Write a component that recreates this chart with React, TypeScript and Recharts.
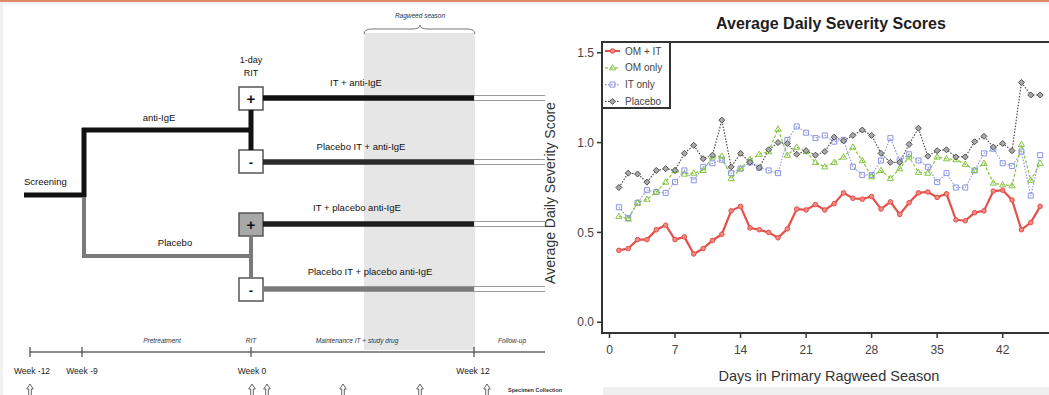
import React from 'react';
import { ComposedChart, LineChart, Line, XAxis, YAxis, ReferenceLine, ReferenceArea, Customized } from 'recharts';

// ---------- data (right panel) ----------
const days = [1,2,3,4,5,6,7,8,9,10,11,12,13,14,15,16,17,18,19,20,21,22,23,24,25,26,27,28,29,30,31,32,33,34,35,36,37,38,39,40,41,42,43,44,45,46];
const omIt = [0.40,0.41,0.46,0.46,0.515,0.54,0.46,0.475,0.38,0.41,0.455,0.49,0.62,0.645,0.525,0.515,0.50,0.47,0.52,0.63,0.625,0.655,0.625,0.66,0.72,0.69,0.685,0.70,0.63,0.67,0.60,0.665,0.72,0.725,0.695,0.715,0.57,0.565,0.61,0.62,0.73,0.735,0.68,0.515,0.555,0.645];
const omOnly = [0.59,0.575,0.665,0.685,0.725,0.78,0.845,0.825,0.83,0.845,0.92,0.925,0.80,0.855,0.905,0.935,0.95,1.075,0.93,0.975,0.95,0.89,0.865,0.89,0.92,0.975,0.90,0.81,0.845,0.80,0.855,0.92,0.835,0.83,0.92,0.91,0.905,0.88,0.845,0.885,0.775,0.765,0.76,0.99,0.79,0.885];
const itOnly = [0.64,0.58,0.665,0.735,0.725,0.72,0.78,0.845,0.79,0.865,0.885,0.905,0.83,0.855,0.89,0.86,0.845,0.83,1.015,1.09,1.055,1.025,1.04,1.005,1.015,0.865,0.82,0.82,0.90,1.025,0.90,0.935,0.90,0.865,0.78,0.83,0.75,0.75,0.845,0.94,0.965,0.885,0.87,0.95,0.705,0.93];
const placebo = [0.75,0.83,0.825,0.78,0.845,0.855,0.845,0.94,0.985,0.91,0.93,1.125,0.865,0.94,0.89,0.86,0.96,1.0,0.995,0.935,0.955,0.93,0.95,1.03,1.01,1.04,1.07,1.04,0.94,0.89,0.89,0.99,1.08,0.925,0.955,0.96,0.92,0.92,1.005,1.035,0.975,0.995,0.955,1.335,1.265,1.265];
const xTicks = [0, 7, 14, 21, 28, 35, 42];
const yTicks = [0, 0.5, 1.0, 1.5];
const seriesNames = ['OM + IT', 'OM only', 'IT only', 'Placebo'];

const data = days.map((d, i) => ({ day: d, omIt: omIt[i], omOnly: omOnly[i], itOnly: itOnly[i], placebo: placebo[i] }));

const RED = '#e5504a';
const GREEN = '#86c440';
const BLUE = '#8c94e4';
const GREY = '#505050';
const FONT = '"Liberation Sans", Arial, Helvetica, sans-serif';

function markerPath(shape: string, cx: number, cy: number) {
  if (shape === 'tri') return `M${cx},${cy - 3.2}L${cx + 3.1},${cy + 2.1}L${cx - 3.1},${cy + 2.1}Z`;
  if (shape === 'sq') return `M${cx - 2.5},${cy - 2.5}h5v5h-5Z`;
  if (shape === 'dia') return `M${cx},${cy - 3}L${cx + 3},${cy}L${cx},${cy + 3}L${cx - 3},${cy}Z`;
  return '';
}

function makeDot(shape: string, color: string, fill: string) {
  return (props: any) => {
    const { cx, cy, index } = props;
    if (cx == null || cy == null) return <g key={index} />;
    if (shape === 'circle') {
      return <circle key={index} cx={cx} cy={cy} r={2.3} fill={fill} stroke={color} strokeWidth={1} />;
    }
    return <path key={index} d={markerPath(shape, cx, cy)} fill={fill} stroke={color} strokeWidth={1} />;
  };
}

// ---------- left diagram ----------
const anchor = [{ x: 0, y: 0 }, { x: 1049, y: 395 }];
const arrowsX = [30, 252, 267, 343, 420, 487];
const timelineTicks = [30, 82, 251, 474];
const armRows = [
  { y: 98, color: '#111' },
  { y: 162, color: '#2a2a2a' },
  { y: 224, color: '#1e1e1e' },
  { y: 289, color: '#7a7a7a' },
];

const FrameBits = () => (
  <g>
    <rect x={0} y={0} width={1049} height={2} fill="#e0896a" />
    <rect x={0} y={2} width={1049} height={2} fill="#f1f1f1" />
    <rect x={0} y={2} width={3} height={393} fill="#f1f1f1" />
    <rect x={603} y={387} width={446} height={8} fill="#efefef" />
    <rect x={364} y={33} width={111} height={317} fill="#e6e6e6" />
  </g>
);

const DiagramText = () => (
  <g fontFamily={FONT}>
    <path d="M364,34 Q364,29 372,29 L412,29 Q420,29 420,25 Q420,29 428,29 L467,29 Q475,29 475,34" fill="none" stroke="#777" strokeWidth={1} />
    <text x={420} y={18} fontSize={6.5} fontStyle="italic" textAnchor="middle" fill="#333">Ragweed season</text>

    <text x={251} y={63} fontSize={9} textAnchor="middle" fill="#111">1-day</text>
    <text x={251} y={76} fontSize={9} textAnchor="middle" fill="#111">RIT</text>

    <text x={356} y={86} fontSize={9.5} textAnchor="middle" fill="#111">IT + anti-IgE</text>
    <text x={159} y={121} fontSize={9.5} textAnchor="middle" fill="#111">anti-IgE</text>
    <text x={361} y={150} fontSize={9.5} textAnchor="middle" fill="#111">Placebo IT + anti-IgE</text>
    <text x={24} y={185} fontSize={9.5} textAnchor="start" fill="#111">Screening</text>
    <text x={357} y={211} fontSize={9.5} textAnchor="middle" fill="#111">IT + placebo anti-IgE</text>
    <text x={175} y={246} fontSize={9.5} textAnchor="middle" fill="#111">Placebo</text>
    <text x={370} y={275} fontSize={9.5} textAnchor="middle" fill="#111">Placebo IT + placebo anti-IgE</text>

    <text x={251} y={104} fontSize={15} fontWeight="bold" textAnchor="middle" fill="#111">+</text>
    <text x={251} y={167} fontSize={13} fontWeight="bold" textAnchor="middle" fill="#111">-</text>
    <text x={251} y={230} fontSize={15} fontWeight="bold" textAnchor="middle" fill="#111">+</text>
    <text x={251} y={295} fontSize={13} fontWeight="bold" textAnchor="middle" fill="#111">-</text>

    <text x={162} y={343} fontSize={6.5} fontStyle="italic" textAnchor="middle" fill="#333">Pretreatment</text>
    <text x={251} y={343} fontSize={6.5} fontStyle="italic" textAnchor="middle" fill="#333">RIT</text>
    <text x={357} y={343} fontSize={6.5} fontStyle="italic" textAnchor="middle" fill="#333">Maintenance IT + study drug</text>
    <text x={512} y={343} fontSize={6.5} fontStyle="italic" textAnchor="middle" fill="#333">Follow-up</text>

    <text x={32} y={374} fontSize={8.5} textAnchor="middle" fill="#222">Week -12</text>
    <text x={82} y={374} fontSize={8.5} textAnchor="middle" fill="#222">Week -9</text>
    <text x={252} y={374} fontSize={8.5} textAnchor="middle" fill="#222">Week 0</text>
    <text x={473} y={374} fontSize={8.5} textAnchor="middle" fill="#222">Week 12</text>
    <text x={508} y={392} fontSize={5.5} fontWeight="bold" fill="#333">Specimen Collection</text>

    {arrowsX.map((x) => (
      <path key={x} d={`M${x - 1.3},395 L${x - 1.3},389 L${x - 3.3},389 L${x},384 L${x + 3.3},389 L${x + 1.3},389 L${x + 1.3},395`} fill="#fff" stroke="#555" strokeWidth={0.9} />
    ))}

    <text x={831} y={29} fontSize={16} fontWeight="bold" textAnchor="middle" fill="#1e1e1e">Average Daily Severity Scores</text>
    <text x={829} y={381} fontSize={14.5} textAnchor="middle" fill="#333">Days in Primary Ragweed Season</text>
    <text x={555} y={193} fontSize={14} textAnchor="middle" fill="#333" transform="rotate(-90 555 193)">Average Daily Severity Score</text>
  </g>
);

const LegendBox = () => {
  const rows = [
    { name: seriesNames[0], color: RED, shape: 'circle', fill: '#f08a84', dash: undefined },
    { name: seriesNames[1], color: GREEN, shape: 'tri', fill: 'none', dash: '3 2' },
    { name: seriesNames[2], color: BLUE, shape: 'sq', fill: 'none', dash: '1.5 1.5' },
    { name: seriesNames[3], color: GREY, shape: 'dia', fill: '#aaa', dash: '1.5 1.5' },
  ];
  return (
    <g fontFamily={FONT}>
      <rect x={62} y={42} width={68} height={66} fill="#fff" stroke="#333" strokeWidth={2} />
      {rows.map((r, i) => {
        const cy = 51 + i * 16.8;
        return (
          <g key={r.name}>
            <line x1={65} x2={80} y1={cy} y2={cy} stroke={r.color} strokeWidth={r.shape === 'circle' ? 2 : 1.2} strokeDasharray={r.dash} />
            {r.shape === 'circle' ? (
              <circle cx={72.5} cy={cy} r={2.3} fill={r.fill} stroke={r.color} />
            ) : (
              <path d={markerPath(r.shape, 72.5, cy)} fill={r.fill} stroke={r.color} strokeWidth={1} />
            )}
            <text x={85} y={cy + 3.5} fontSize={10} fill="#444">{r.name}</text>
          </g>
        );
      })}
    </g>
  );
};

export default function App() {
  return (
    <div style={{ position: 'fixed', left: 0, top: 0, width: 1049, height: 395, overflow: 'hidden', background: '#fff' }}>
      <div style={{ position: 'absolute', left: 0, top: 0 }}>
        <ComposedChart width={1049} height={395} data={anchor} margin={{ top: 0, right: 0, bottom: 0, left: 0 }}>
          <XAxis dataKey="x" type="number" domain={[0, 1049]} hide allowDataOverflow />
          <YAxis dataKey="y" type="number" domain={[0, 395]} reversed hide allowDataOverflow />
          <Customized component={FrameBits} />
        </ComposedChart>
      </div>
      <div style={{ position: 'absolute', left: 0, top: 0 }}>
        <ComposedChart width={1049} height={395} data={anchor} margin={{ top: 0, right: 0, bottom: 0, left: 0 }}>
          <XAxis dataKey="x" type="number" domain={[0, 1049]} hide allowDataOverflow />
          <YAxis dataKey="y" type="number" domain={[0, 395]} reversed hide allowDataOverflow />
          <ReferenceLine segment={[{ x: 24, y: 195 }, { x: 84, y: 195 }]} stroke="#111" strokeWidth={5} />
          <ReferenceLine segment={[{ x: 84, y: 197 }, { x: 84, y: 128 }]} stroke="#111" strokeWidth={5} />
          <ReferenceLine segment={[{ x: 82, y: 130 }, { x: 251, y: 130 }]} stroke="#111" strokeWidth={5} />
          <ReferenceLine segment={[{ x: 251, y: 110 }, { x: 251, y: 150 }]} stroke="#111" strokeWidth={5} />
          <ReferenceLine segment={[{ x: 84, y: 197 }, { x: 84, y: 258 }]} stroke="#7a7a7a" strokeWidth={4} />
          <ReferenceLine segment={[{ x: 82, y: 256 }, { x: 251, y: 256 }]} stroke="#7a7a7a" strokeWidth={4} />
          <ReferenceLine segment={[{ x: 251, y: 235 }, { x: 251, y: 278 }]} stroke="#7a7a7a" strokeWidth={4} />
          {armRows.map((r) => (
            <ReferenceLine key={`a${r.y}`} segment={[{ x: 263, y: r.y }, { x: 474, y: r.y }]} stroke={r.color} strokeWidth={5.5} />
          ))}
          {armRows.map((r) => (
            <ReferenceLine key={`u${r.y}`} segment={[{ x: 474, y: r.y - 2.5 }, { x: 545, y: r.y - 2.5 }]} stroke="#9a9a9a" strokeWidth={1} />
          ))}
          {armRows.map((r) => (
            <ReferenceLine key={`l${r.y}`} segment={[{ x: 474, y: r.y + 2.5 }, { x: 545, y: r.y + 2.5 }]} stroke="#9a9a9a" strokeWidth={1} />
          ))}
          <ReferenceArea x1={239} x2={263} y1={87} y2={110} fill="#fff" fillOpacity={1} stroke="#555" strokeWidth={1.5} />
          <ReferenceArea x1={239} x2={263} y1={150} y2={173} fill="#fff" fillOpacity={1} stroke="#555" strokeWidth={1.5} />
          <ReferenceArea x1={239} x2={263} y1={213} y2={236} fill="#a8a8a8" fillOpacity={1} stroke="#555" strokeWidth={1.5} />
          <ReferenceArea x1={239} x2={263} y1={278} y2={301} fill="#fff" fillOpacity={1} stroke="#555" strokeWidth={1.5} />
          <ReferenceLine segment={[{ x: 30, y: 352 }, { x: 545, y: 352 }]} stroke="#666" strokeWidth={1.3} />
          {timelineTicks.map((x) => (
            <ReferenceLine key={`t${x}`} segment={[{ x, y: 347 }, { x, y: 357 }]} stroke="#555" strokeWidth={1.3} />
          ))}
        </ComposedChart>
      </div>
      <div style={{ position: 'absolute', left: 0, top: 0 }}>
        <ComposedChart width={1049} height={395} data={anchor} margin={{ top: 0, right: 0, bottom: 0, left: 0 }}>
          <XAxis dataKey="x" type="number" domain={[0, 1049]} hide allowDataOverflow />
          <YAxis dataKey="y" type="number" domain={[0, 395]} reversed hide allowDataOverflow />
          <Customized component={DiagramText} />
        </ComposedChart>
      </div>
      <div style={{ position: 'absolute', left: 540, top: 0 }}>
        <LineChart width={517} height={395} data={data} margin={{ top: 42, right: 0, bottom: 0, left: 0 }}>
          <XAxis dataKey="day" type="number" domain={[-0.8, 47.8]} ticks={xTicks} allowDataOverflow height={62}
            axisLine={false} tickLine={{ stroke: '#333', strokeWidth: 1.5 }} tickSize={5} tickMargin={7}
            tick={{ fontSize: 12, fill: '#444', fontFamily: FONT }} />
          <YAxis type="number" domain={[-0.06, 1.56]} ticks={yTicks} allowDataOverflow width={62}
            axisLine={false} tickLine={{ stroke: '#333', strokeWidth: 1.5 }} tickSize={5} tickMargin={3}
            tickFormatter={(v: number) => v.toFixed(1)} tick={{ fontSize: 12, fill: '#444', fontFamily: FONT }} />
          <Line dataKey="itOnly" name={seriesNames[2]} stroke={BLUE} strokeWidth={1.1} strokeDasharray="1.5 1.5" dot={makeDot('sq', BLUE, 'none')} isAnimationActive={false} />
          <Line dataKey="omOnly" name={seriesNames[1]} stroke={GREEN} strokeWidth={1.2} strokeDasharray="3 2" dot={makeDot('tri', GREEN, 'none')} isAnimationActive={false} />
          <Line dataKey="placebo" name={seriesNames[3]} stroke={GREY} strokeWidth={1.2} strokeDasharray="1.5 1.5" dot={makeDot('dia', GREY, '#aaa')} isAnimationActive={false} />
          <Line dataKey="omIt" name={seriesNames[0]} stroke={RED} strokeWidth={2.2} dot={makeDot('circle', RED, '#f08a84')} isAnimationActive={false} />
          <ReferenceArea x1={-0.8} x2={47.8} y1={-0.06} y2={1.56} fill="none" stroke="#333" strokeWidth={2} ifOverflow="visible" />
          <Customized component={LegendBox} />
        </LineChart>
      </div>
    </div>
  );
}
